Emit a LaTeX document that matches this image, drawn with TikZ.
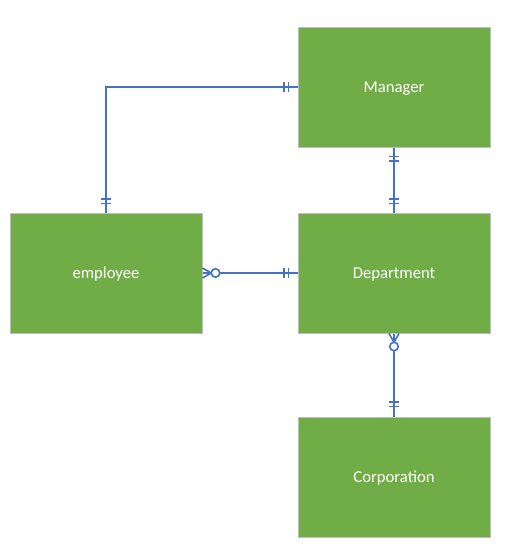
\documentclass[tikz,border=0pt]{standalone}
\usepackage{fontspec}
\setmainfont{Carlito}
\usetikzlibrary{calc}
\definecolor{boxgreen}{HTML}{70AD47}
\definecolor{linkblue}{HTML}{4472C4}
\definecolor{boxedge}{HTML}{BFBFBF}
\begin{document}
\begin{tikzpicture}[x=0.75pt,y=-0.75pt,
  entity/.style={draw=boxedge, line width=0.75pt, fill=boxgreen, minimum width=144pt, minimum height=90pt, inner sep=0pt, text=white, font=\fontsize{12.5}{15}\selectfont, text height=0.85em, text depth=0.02em},
  link/.style={draw=linkblue, line width=1.5pt},
  endmark/.style={draw=linkblue, line width=1.2pt},
  ring/.style={draw=linkblue, line width=1.2pt, fill=white}]
\useasboundingbox (0,0) rectangle (508,547);
\node[entity] (manager) at (394,87) {Manager};
\node[entity] (employee) at (106,273) {employee};
\node[entity] (department) at (394,273) {Department};
\node[entity] (corporation) at (394,477) {Corporation};
% connectors
\draw[link] (employee.north) |- (manager.west);
\draw[link] (manager.south) -- (department.north);
\draw[link] (employee.east) -- (department.west);
\draw[link] (department.south) -- (corporation.north);
% one-and-only-one bars
\foreach \d in {9,13.5}{
  \draw[endmark] ($(manager.west)+(-\d,-5)$) -- ++(0,10);
  \draw[endmark] ($(employee.north)+(-5,-\d)$) -- ++(10,0);
  \draw[endmark] ($(manager.south)+(-5,\d)$) -- ++(10,0);
  \draw[endmark] ($(department.north)+(-5,-\d)$) -- ++(10,0);
  \draw[endmark] ($(department.west)+(-\d,-5)$) -- ++(0,10);
}
\foreach \d in {10,14.5}{
  \draw[endmark] ($(corporation.north)+(-5,-\d)$) -- ++(10,0);
}
% zero-or-many at employee
\draw[endmark] ($(employee.east)+(0,-5)$) -- ($(employee.east)+(8.7,0)$) -- ($(employee.east)+(0,5)$);
\draw[ring] ($(employee.east)+(13,0)$) circle[radius=3.2pt];
% zero-or-many at department bottom
\draw[endmark] ($(department.south)+(-5,0)$) -- ($(department.south)+(0,8.7)$) -- ($(department.south)+(5,0)$);
\draw[ring] ($(department.south)+(0,13)$) circle[radius=3.2pt];
\end{tikzpicture}
\end{document}
